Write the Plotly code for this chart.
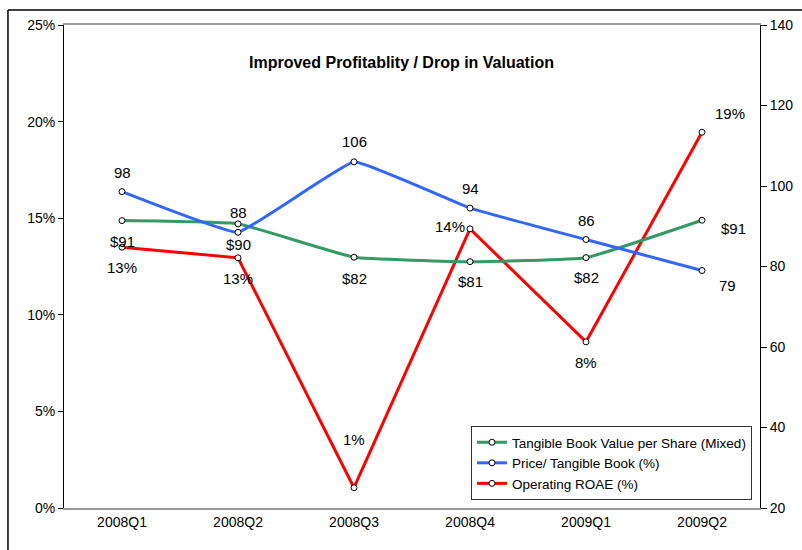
import plotly.graph_objects as go

quarters = ["2008Q1", "2008Q2", "2008Q3", "2008Q4", "2009Q1", "2009Q2"]
tbv_per_share = [91.4, 90.6, 82.3, 81.2, 82.2, 91.5]
tbv_labels = ["$91", "$90", "$82", "$81", "$82", "$91"]
price_tbv = [98.6, 88.5, 106.0, 94.5, 86.7, 79.0]
price_tbv_labels = ["98", "88", "106", "94", "86", "79"]
roae = [13.5, 12.95, 1.05, 14.45, 8.6, 19.45]
roae_labels = ["13%", "13%", "1%", "14%", "8%", "19%"]

FONT = "Liberation Sans, Arial, sans-serif"
GREEN = "#339966"
BLUE = "#3366FF"
RED = "#FF0000"

marker = dict(symbol="circle", size=6, color="white", line=dict(color="black", width=1))

fig = go.Figure()
fig.add_trace(go.Scatter(x=quarters, y=tbv_per_share, name="Tangible Book Value per Share (Mixed)",
                         mode="lines+markers", yaxis="y2",
                         line=dict(color=GREEN, width=3, shape="spline", smoothing=0.3),
                         marker=marker))
fig.add_trace(go.Scatter(x=quarters, y=price_tbv, name="Price/ Tangible Book (%)",
                         mode="lines+markers", yaxis="y2",
                         line=dict(color=BLUE, width=3, shape="spline", smoothing=0.25),
                         marker=marker))
fig.add_trace(go.Scatter(x=quarters, y=roae, name="Operating ROAE (%)",
                         mode="lines+markers", yaxis="y",
                         line=dict(color=RED, width=3),
                         marker=marker))

# label offsets (px) per point
tbv_off = [(0, -21), (0, -21), (0, -21), (0, -20), (0, -20), (31, -8)]
ptbv_off = [(0, 19), (0, 20), (0, 20), (0, 20), (0, 19), (25, -15)]
roae_off = [(0, -20), (0, -21), (0, 48), (-20, 2), (0, -21), (28, 19)]

annotations = []
for q, v, t, (dx, dy) in zip(quarters, tbv_per_share, tbv_labels, tbv_off):
    annotations.append(dict(x=q, y=v, xref="x", yref="y2", text=t, showarrow=False,
                            xshift=dx, yshift=dy, font=dict(family=FONT, size=15, color="black")))
for q, v, t, (dx, dy) in zip(quarters, price_tbv, price_tbv_labels, ptbv_off):
    annotations.append(dict(x=q, y=v, xref="x", yref="y2", text=t, showarrow=False,
                            xshift=dx, yshift=dy, font=dict(family=FONT, size=15, color="black")))
for q, v, t, (dx, dy) in zip(quarters, roae, roae_labels, roae_off):
    annotations.append(dict(x=q, y=v, xref="x", yref="y", text=t, showarrow=False,
                            xshift=dx, yshift=dy, font=dict(family=FONT, size=15, color="black")))
annotations.append(dict(x=0.4856, y=0.944, xref="paper", yref="paper",
                        text="<b>Improved Profitablity / Drop in Valuation</b>", showarrow=False,
                        font=dict(family=FONT, size=16, color="black")))

shapes = [
    dict(type="line", xref="paper", yref="paper", x0=-0.0805, x1=-0.0805, y0=-0.2, y1=1.031,
         line=dict(color="black", width=1.5)),
    dict(type="line", xref="paper", yref="paper", x0=-0.0805, x1=1.2, y0=1.031, y1=1.031,
         line=dict(color="black", width=1.5)),
]

fig.update_layout(
    width=802, height=550,
    margin=dict(l=64, r=42, t=25, b=42, autoexpand=False),
    paper_bgcolor="white", plot_bgcolor="white",
    font=dict(family=FONT, size=14, color="black"),
    showlegend=True,
    legend=dict(x=0.9885, y=0.0166, xanchor="right", yanchor="bottom",
                bgcolor="white", bordercolor="#333333", borderwidth=1,
                font=dict(family=FONT, size=13.5, color="black"),
                tracegroupgap=0, itemwidth=30),
    xaxis=dict(type="category", showgrid=False, showline=True, linecolor="#999999", linewidth=2,
               mirror=True, ticks="", tickfont=dict(family=FONT, size=14), zeroline=False,
               range=[-0.5, 5.5], automargin=False),
    yaxis=dict(range=[0, 25], dtick=5, ticksuffix="%", showgrid=False, zeroline=False,
               showline=True, linecolor="black", linewidth=1, ticks="outside", ticklen=5,
               tickcolor="black", tickfont=dict(family=FONT, size=14), automargin=False),
    yaxis2=dict(range=[20, 140], dtick=20, overlaying="y", side="right", showgrid=False,
                zeroline=False, showline=True, linecolor="black", linewidth=1, ticks="outside",
                ticklen=6, tickcolor="black", tickfont=dict(family=FONT, size=14), automargin=False),
    annotations=annotations,
    shapes=shapes,
)

fig.write_html("out.html", config={"displayModeBar": False},
               post_script="document.body.style.margin='0';")
